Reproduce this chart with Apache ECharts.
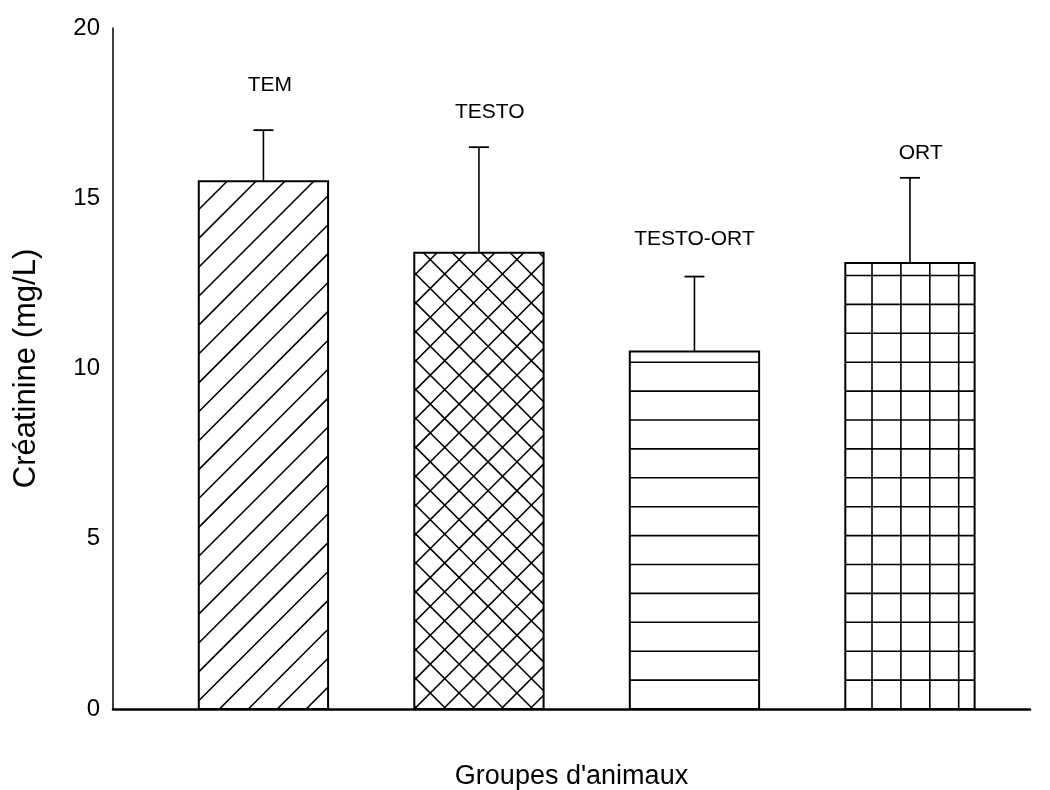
<!DOCTYPE html>
<html>
<head>
<meta charset="utf-8" />
<script src="https://cdn.jsdelivr.net/npm/echarts@6/dist/echarts.min.js"></script>
<style>html,body{margin:0;background:#fff}#chart{width:1050px;height:790px}</style>
</head>
<body>
<div id="chart"></div>
<script>
// data
var groups = ['TEM', 'TESTO', 'TESTO-ORT', 'ORT'];
var means = [15.5, 13.4, 10.5, 13.1];
var errors = [1.5, 3.1, 2.2, 2.5];
var labelHeights = [18.33, 17.53, 13.8, 16.33];   // where group names sit (y units)
var labelShift = [0.03, 0.05, 0, 0.05];           // small x nudge (category units)
var patterns = ['diag', 'cross', 'horiz', 'grid'];
var yTicks = [0, 5, 10, 15, 20];

var FONT = "'Liberation Sans', Arial, sans-serif";
var STEP = 28.9; // hatch spacing px

function hatchLines(kind, x0, x1, y0, y1) {
    // x0<x1, y0 top < y1 bottom
    var out = [];
    function diagUp(off) {       // "/" : x + y = c
        var base = x0 + y1 + off;
        var kMin = Math.floor((x0 + y0 - base) / STEP) - 1;
        var kMax = Math.ceil((x1 + y1 - base) / STEP) + 1;
        for (var k = kMin; k <= kMax; k++) {
            var c = base + k * STEP;
            var xa = Math.max(x0, c - y1), xb = Math.min(x1, c - y0);
            if (xb - xa > 0.5) out.push([xa, c - xa, xb, c - xb]);
        }
    }
    function diagDown(off) {     // "\" : x - y = d
        var base = x0 - y1 + off;
        var kMin = Math.floor((x0 - y1 - base) / STEP) - 1;
        var kMax = Math.ceil((x1 - y0 - base) / STEP) + 1;
        for (var k = kMin; k <= kMax; k++) {
            var d = base + k * STEP;
            var xa = Math.max(x0, y0 + d), xb = Math.min(x1, y1 + d);
            if (xb - xa > 0.5) out.push([xa, xa - d, xb, xb - d]);
        }
    }
    function horiz() {
        for (var y = y1 - STEP; y > y0 + 1; y -= STEP) out.push([x0, y, x1, y]);
    }
    function vert(off) {
        for (var x = x0 + off; x < x1 - 1; x += STEP) out.push([x, y0, x, y1]);
    }
    if (kind === 'diag') diagUp(20.7);
    if (kind === 'cross') { diagUp(0); diagDown(3); }
    if (kind === 'horiz') horiz();
    if (kind === 'grid') { horiz(); vert(26.7); }
    return out;
}

var seriesData = groups.map(function (g, i) {
    return [i + 1, means[i], errors[i], i];
});

function renderItem(params, api) {
    var pos = api.value(0), mean = api.value(1), err = api.value(2), i = api.value(3);
    var top = api.coord([pos, mean]);
    var bottom = api.coord([pos, 0]);
    var errTop = api.coord([pos, mean + err]);
    var half = api.size([0.6, 0])[0] / 2;
    var x0 = top[0] - half, x1 = top[0] + half, y0 = top[1], y1 = bottom[1];
    var children = [{
        type: 'rect',
        shape: { x: x0, y: y0, width: x1 - x0, height: y1 - y0 },
        style: { fill: '#fff', stroke: null }
    }];
    hatchLines(patterns[i], x0, x1, y0, y1).forEach(function (l) {
        children.push({
            type: 'line',
            shape: { x1: l[0], y1: l[1], x2: l[2], y2: l[3] },
            style: { stroke: '#000', lineWidth: 1.6 }
        });
    });
    children.push({
        type: 'rect',
        shape: { x: x0, y: y0, width: x1 - x0, height: y1 - y0 },
        style: { fill: null, stroke: '#000', lineWidth: 2 }
    });
    // error bar
    children.push({
        type: 'line',
        shape: { x1: top[0], y1: y0, x2: top[0], y2: errTop[1] },
        style: { stroke: '#000', lineWidth: 1.6 }
    });
    children.push({
        type: 'line',
        shape: { x1: top[0] - 10, y1: errTop[1], x2: top[0] + 10, y2: errTop[1] },
        style: { stroke: '#000', lineWidth: 1.8 }
    });
    var lp = api.coord([pos + labelShift[i], labelHeights[i]]);
    children.push({
        type: 'text',
        x: lp[0], y: lp[1],
        style: {
            text: groups[i], fill: '#000', font: '21px ' + FONT,
            align: 'center', verticalAlign: 'middle'
        }
    });
    return { type: 'group', children: children };
}

var chart = echarts.init(document.getElementById('chart'));
chart.setOption({
    backgroundColor: '#fff',
    animation: false,
    grid: { left: 113, right: 20, top: 28, bottom: 81, containLabel: false, outerBoundsMode: 'none' },
    xAxis: {
        type: 'value', min: 0.302, max: 4.557,
        axisLine: { show: true, lineStyle: { color: '#000', width: 2.5 } },
        axisTick: { show: false }, axisLabel: { show: false }, splitLine: { show: false },
        name: "Groupes d'animaux", nameLocation: 'middle', nameGap: 54,
        nameTextStyle: { color: '#000', fontSize: 27, fontFamily: FONT }
    },
    yAxis: {
        type: 'value', min: yTicks[0], max: yTicks[yTicks.length - 1], interval: 5,
        axisLine: { show: true, lineStyle: { color: '#000', width: 1.5 } },
        axisTick: { show: false }, splitLine: { show: false },
        axisLabel: { color: '#000', fontSize: 24, fontFamily: FONT, margin: 13 },
        name: 'Créatinine (mg/L)', nameLocation: 'middle', nameGap: 71,
        nameTextStyle: { color: '#000', fontSize: 31, fontFamily: FONT }
    },
    series: [{
        type: 'custom',
        renderItem: renderItem,
        data: seriesData,
        clip: false,
        encode: { x: 0, y: [1, 2] }
    }]
});
</script>
</body>
</html>
